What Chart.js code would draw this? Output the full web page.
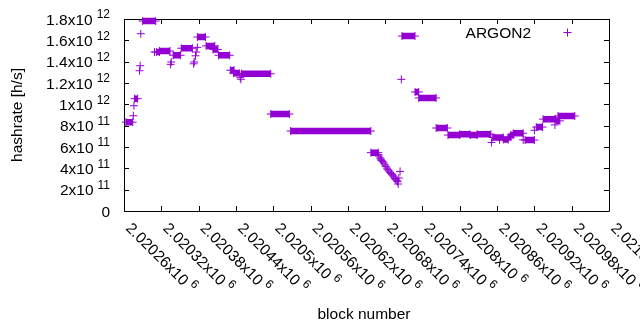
<!DOCTYPE html>
<html>
<head>
<meta charset="utf-8">
<script src="https://cdn.jsdelivr.net/npm/chart.js@4.4.1/dist/chart.umd.min.js"></script>
<style>
html, body { margin: 0; padding: 0; background: #fff; }
#wrap { width: 640px; height: 330px; }
</style>
</head>
<body>
<div id="wrap"><canvas id="hashChart" width="640" height="330"></canvas></div>
<script>
// stretches of blocks where the hashrate stayed flat
const runStart = [2020263, 2020277, 2020290, 2020312, 2020317, 2020339, 2020352, 2020378, 2020392, 2020403,
                  2020412, 2020431, 2020436, 2020449, 2020496, 2020528, 2020657, 2020707, 2020728, 2020734,
                  2020762, 2020781, 2020800, 2020817, 2020828, 2020853, 2020870, 2020878, 2020882, 2020886,
                  2020905, 2020923, 2020934, 2020955, 2020958];
const runEnd   = [2020274, 2020282, 2020311, 2020317, 2020334, 2020351, 2020370, 2020391, 2020406, 2020411,
                  2020430, 2020437, 2020446, 2020496, 2020526, 2020657, 2020669, 2020728, 2020734, 2020762,
                  2020780, 2020800, 2020816, 2020828, 2020850, 2020870, 2020878, 2020882, 2020886, 2020902,
                  2020920, 2020933, 2020954, 2020961, 2020985];
const runValue = [8.33e11, 1.053e12, 1.781e12, 1.49e12, 1.50e12, 1.46e12, 1.526e12, 1.631e12, 1.548e12, 1.515e12,
                  1.46e12, 1.32e12, 1.292e12, 1.287e12, 9.09e11, 7.5e11, 5.47e11, 1.64e12, 1.116e12, 1.06e12,
                  7.78e11, 7.12e11, 7.2e11, 7.12e11, 7.2e11, 6.89e11, 6.7e11, 6.92e11, 7.12e11, 7.29e11,
                  6.65e11, 7.87e11, 8.61e11, 8.45e11, 8.91e11];

// single blocks
const pointBlock = [2020275, 2020276, 2020285, 2020286, 2020287, 2020309, 2020335, 2020336, 2020372, 2020373,
                    2020375, 2020376, 2020378, 2020447, 2020448,
                    2020669, 2020670, 2020672, 2020673, 2020674, 2020676, 2020678, 2020680, 2020681, 2020683,
                    2020684, 2020686, 2020688, 2020690, 2020691, 2020693, 2020694, 2020696, 2020697, 2020699,
                    2020700, 2020701, 2020702, 2020704, 2020706,
                    2020851, 2020864, 2020902, 2020920, 2020953];
const pointValue = [8.93e11, 9.87e11, 1.315e12, 1.362e12, 1.662e12, 1.49e12, 1.375e12, 1.397e12, 1.38e12, 1.397e12,
                    1.455e12, 1.49e12, 1.534e12, 1.25e12, 1.235e12,
                    5.28e11, 5.15e11, 4.97e11, 4.86e11, 4.74e11, 4.62e11, 4.5e11, 4.32e11, 4.18e11, 4.02e11,
                    3.87e11, 3.75e11, 3.62e11, 3.5e11, 3.4e11, 3.3e11, 3.19e11, 3.05e11, 2.93e11, 2.83e11,
                    2.75e11, 2.53e11, 3.09e11, 3.71e11, 1.234e12,
                    6.43e11, 6.67e11, 6.67e11, 7.57e11, 8.07e11];

const xTicks = [2020260, 2020320, 2020380, 2020440, 2020500, 2020560, 2020620,
                2020680, 2020740, 2020800, 2020860, 2020920, 2020980, 2021040];
const xTickLabels = ['2.02026x10^6', '2.02032x10^6', '2.02038x10^6', '2.02044x10^6', '2.0205x10^6',
                     '2.02056x10^6', '2.02062x10^6', '2.02068x10^6', '2.02074x10^6', '2.0208x10^6',
                     '2.02086x10^6', '2.02092x10^6', '2.02098x10^6', '2.02104x10^6'];
const yTicks = [0, 2e11, 4e11, 6e11, 8e11, 1e12, 1.2e12, 1.4e12, 1.6e12, 1.8e12];
const yTickLabels = ['0', '2x10^11', '4x10^11', '6x10^11', '8x10^11', '1x10^12',
                     '1.2x10^12', '1.4x10^12', '1.6x10^12', '1.8x10^12'];

const seriesName = 'ARGON2';
const purple = '#9400d3';
const fontFam = '"Liberation Sans", Arial, sans-serif';

// each run becomes a thick segment, null breaks the line between runs
const runData = [];
runStart.forEach((s, i) => {
    runData.push({x: s, y: runValue[i]});
    runData.push({x: runEnd[i], y: runValue[i]});
    runData.push({x: runEnd[i], y: null});
});
const pointData = pointBlock.map((b, i) => ({x: b, y: pointValue[i]}));

function drawSup(ctx, label, x, y) {
    const parts = label.split('^');
    ctx.font = '15.5px ' + fontFam;
    ctx.fillText(parts[0], x, y);
    if (parts[1]) {
        const w = ctx.measureText(parts[0]).width;
        ctx.font = '12px ' + fontFam;
        ctx.fillText(parts[1], x + w + 4, y - 6.5);
    }
}
function supWidth(ctx, label) {
    const parts = label.split('^');
    ctx.font = '15.5px ' + fontFam;
    let w = ctx.measureText(parts[0]).width;
    if (parts[1]) {
        ctx.font = '12px ' + fontFam;
        w += 4 + ctx.measureText(parts[1]).width;
    }
    return w;
}

const gnuplotFrame = {
    id: 'gnuplotFrame',
    beforeDatasetsDraw(chart) {
        const ctx = chart.ctx;
        const a = chart.chartArea;
        const xs = chart.scales.x, ys = chart.scales.y;
        ctx.save();
        ctx.strokeStyle = '#000';
        ctx.lineWidth = 1;
        ctx.beginPath();
        ctx.rect(a.left + 0.5, a.top + 0.5, a.right - a.left, a.bottom - a.top);
        xTicks.forEach(t => {
            const px = Math.round(xs.getPixelForValue(t)) + 0.5;
            ctx.moveTo(px, a.bottom); ctx.lineTo(px, a.bottom - 5);
            ctx.moveTo(px, a.top); ctx.lineTo(px, a.top + 5);
        });
        yTicks.forEach(t => {
            const py = Math.round(ys.getPixelForValue(t)) + 0.5;
            ctx.moveTo(a.left, py); ctx.lineTo(a.left + 5, py);
            ctx.moveTo(a.right, py); ctx.lineTo(a.right - 5, py);
        });
        ctx.stroke();
        ctx.restore();
    },
    afterDraw(chart) {
        const ctx = chart.ctx;
        const a = chart.chartArea;
        const xs = chart.scales.x, ys = chart.scales.y;
        ctx.save();
        ctx.fillStyle = '#000';
        ctx.textAlign = 'left';
        ctx.textBaseline = 'alphabetic';
        // y tick labels, right aligned
        yTicks.forEach((t, i) => {
            const py = ys.getPixelForValue(t);
            const w = supWidth(ctx, yTickLabels[i]);
            drawSup(ctx, yTickLabels[i], a.left - 14 - w, py + 5.7);
        });
        // x tick labels, turned 45 degrees
        xTicks.forEach((t, i) => {
            const px = xs.getPixelForValue(t);
            ctx.save();
            ctx.translate(px + 1, a.bottom + 18);
            ctx.rotate(Math.PI / 4);
            drawSup(ctx, xTickLabels[i], 0, 0);
            ctx.restore();
        });
        // axis titles
        ctx.font = '15.5px ' + fontFam;
        ctx.textAlign = 'center';
        ctx.fillText('block number', 364, 319);
        ctx.save();
        ctx.translate(21.5, (a.top + a.bottom) / 2);
        ctx.rotate(-Math.PI / 2);
        ctx.fillText('hashrate [h/s]', 0, 0);
        ctx.restore();
        // key in the top right corner
        ctx.textAlign = 'right';
        ctx.fillText(seriesName, 531, 37.7);
        ctx.strokeStyle = purple;
        ctx.lineWidth = 1;
        ctx.beginPath();
        ctx.moveTo(563.5, 32.5); ctx.lineTo(571.5, 32.5);
        ctx.moveTo(567.5, 28.5); ctx.lineTo(567.5, 36.5);
        ctx.stroke();
        ctx.restore();
    }
};

const ctx = document.getElementById('hashChart').getContext('2d');
const hashChart = new Chart(ctx, {
    type: 'scatter',
    data: {
        datasets: [{
            label: seriesName,
            data: runData,
            showLine: true,
            spanGaps: false,
            borderColor: purple,
            backgroundColor: purple,
            borderWidth: 6.5,
            borderCapStyle: 'butt',
            pointStyle: 'cross',
            pointRadius: 4,
            pointBorderWidth: 1,
            pointBorderColor: purple,
            clip: false
        }, {
            label: seriesName,
            data: pointData,
            showLine: false,
            pointStyle: 'cross',
            pointRadius: 4,
            pointBorderWidth: 1,
            pointBorderColor: purple,
            clip: false
        }]
    },
    options: {
        responsive: false,
        animation: false,
        layout: { padding: { left: 124, right: 31, top: 19, bottom: 119 } },
        plugins: { legend: { display: false }, tooltip: { enabled: false } },
        scales: {
            x: { type: 'linear', display: false, min: 2020260, max: 2021040 },
            y: { type: 'linear', display: false, min: 0, max: 1.8e12 }
        }
    },
    plugins: [gnuplotFrame]
});
</script>
</body>
</html>
